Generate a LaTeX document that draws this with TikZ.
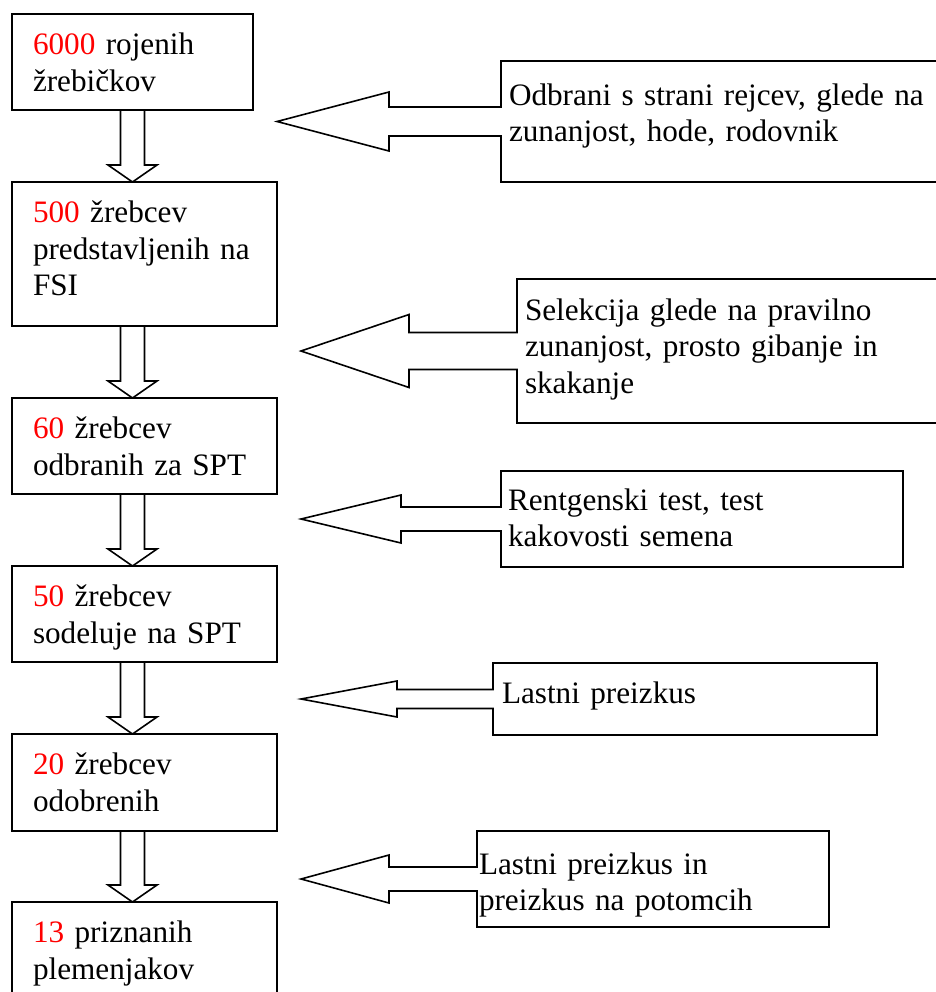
\documentclass[tikz,border=0pt]{standalone}
\usepackage{fontspec}
\setmainfont{Liberation Serif}
\usetikzlibrary{positioning,calc}

\tikzset{
  stage/.style={draw, line width=1pt, anchor=north west, align=left, inner xsep=10.5pt, inner ysep=0pt, outer sep=0pt,
    text width=111.5pt, text height=20.25pt, text depth=27.75pt},
  note/.style={anchor=north west, align=left, inner xsep=4pt, inner ysep=0pt, outer sep=0pt, text height=20pt},
  down/.style={draw, line width=0.8pt},
  callout/.style={draw, line width=0.8pt},
}
\newcommand{\redno}[1]{\textcolor{red}{#1}}

\begin{document}
\begin{tikzpicture}[x=0.5pt, y=-0.5pt, font=\fontsize{15.6}{18.25}\selectfont]
\useasboundingbox (0,0) rectangle (936,992);

% stages on the left
\node (s1) [stage, text width=99.5pt] at (12,14) {\redno{6000} rojenih\\ žrebičkov};
\node (s2) [stage, text depth=51.75pt, below right=36pt and 0pt of s1.south west] {\redno{500} žrebcev\\ predstavljenih na\\ FSI};
\node (s3) [stage, below right=36pt and 0pt of s2.south west] {\redno{60} žrebcev\\ odbranih za SPT};
\node (s4) [stage, below right=36pt and 0pt of s3.south west] {\redno{50} žrebcev\\ sodeluje na SPT};
\node (s5) [stage, text depth=28.25pt, below right=36pt and 0pt of s4.south west] {\redno{20} žrebcev\\ odobrenih};
\node (s6) [stage, below right=35.5pt and 0pt of s5.south west] {\redno{13} priznanih\\ plemenjakov};

% selection notes on the right
\node (c1) [note, text width=212pt, text height=22pt, text depth=38.5pt] at (501,61) {Odbrani s strani rejcev, glede na\\ zunanjost, hode, rodovnik};
\node (c2) [note, text width=204pt, text height=20.5pt, text depth=51.5pt] at (517,279) {Selekcija glede na pravilno\\ zunanjost, prosto gibanje in\\ skakanje};
\node (c3) [note, inner xsep=3.5pt, text width=194pt, text height=19.5pt, text depth=28.5pt] at (501,471) {Rentgenski test, test\\ kakovosti semena};
\node (c4) [note, inner xsep=4.5pt, text width=183pt, text depth=16pt] at (493,663) {Lastni preizkus};
\node (c5) [note, inner xsep=1pt, text width=174pt, text height=21.5pt, text depth=26.5pt] at (477,831) {Lastni preizkus in\\ preizkus na potomcih};

% block arrows down
\foreach \a/\b in {s1/s2,s2/s3,s3/s4,s4/s5,s5/s6}{
  \coordinate (top) at (s1.south |- \a.south);
  \coordinate (tip) at (s1.south |- \b.north);
  \draw[down] ([xshift=-6pt]top) -- ([xshift=-6pt,yshift=8.5pt]tip) -- ([xshift=-12.25pt,yshift=8.5pt]tip)
    -- (tip) -- ([xshift=12.25pt,yshift=8.5pt]tip) -- ([xshift=6pt,yshift=8.5pt]tip) -- ([xshift=6pt]top);
}

% callout outlines with arrows to the left
\foreach \c/\clen/\chead/\cshaft in {c1/56/14.75/7.25, c2/54/18.25/9.25, c3/50/12/6, c4/48/9/4.75, c5/44/12/6}{
  \draw[callout] (\c.north west) -- (\c.north east) -- (\c.south east) -- (\c.south west)
    -- ([yshift=-\cshaft pt]\c.west) -- ([xshift=-\clen pt,yshift=-\cshaft pt]\c.west)
    -- ([xshift=-\clen pt,yshift=-\chead pt]\c.west) -- ([xshift=-2*\clen pt]\c.west)
    -- ([xshift=-\clen pt,yshift=\chead pt]\c.west) -- ([xshift=-\clen pt,yshift=\cshaft pt]\c.west)
    -- ([yshift=\cshaft pt]\c.west) -- cycle;
}
\end{tikzpicture}
\end{document}
